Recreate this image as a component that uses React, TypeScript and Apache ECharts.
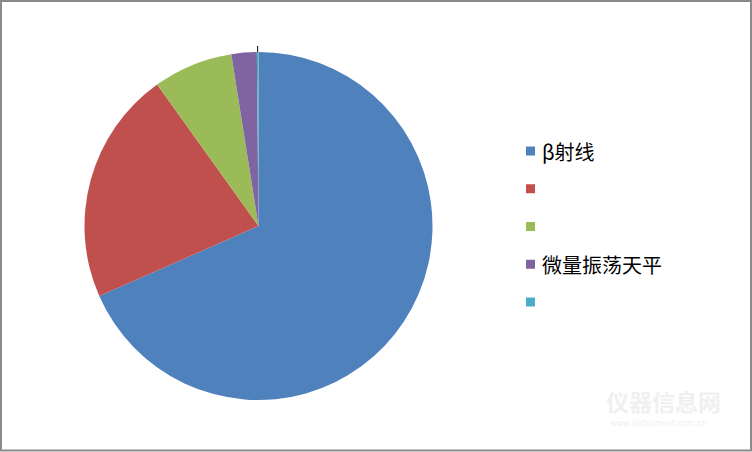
import React, { useEffect, useRef } from "react";
import * as echarts from "echarts";

const categories = ["β射线", "s2", "s3", "微量振荡天平", "s5"];
const displayNames: Record<string, string> = {
  "β射线": "β射线",
  s2: "",
  s3: "",
  "微量振荡天平": "微量振荡天平",
  s5: "",
};
const values = [68.4, 21.7, 7.4, 2.35, 0.15];
const colors = ["#4F81BD", "#C0504D", "#9BBB59", "#8064A2", "#4BACC6"];

export default function App() {
  const ref = useRef<HTMLDivElement>(null);
  useEffect(() => {
    if (!ref.current) return;
    const chart = echarts.init(ref.current, undefined, { renderer: "svg" });
    chart.setOption({
      animation: false,
      backgroundColor: "#ffffff",
      color: colors,
      legend: {
        orient: "vertical",
        left: 526,
        top: 141,
        padding: 0,
        itemWidth: 9,
        itemHeight: 9,
        itemGap: 17.75,
        icon: "rect",
        selectedMode: false,
        data: categories,
        formatter: (name: string) => displayNames[name],
        textStyle: {
          fontFamily: "Noto Sans CJK SC",
          fontSize: 20,
          lineHeight: 20,
          height: 20,
          color: "#000000",
          padding: [0, 0, 0, 2],
        },
      },
      graphic: [
        {
          type: "rect",
          shape: { x: 1, y: 1, width: 750, height: 449.5 },
          style: { fill: "none", stroke: "#8a8a8a", lineWidth: 2 },
          z: 100,
        },
        {
          type: "text",
          left: 606,
          top: 389,
          style: {
            text: "仪器信息网",
            fontSize: 23,
            fontFamily: "Noto Sans CJK SC",
            fontWeight: "bold",
            fill: "#f0f0f0",
          },
        },
        {
          type: "text",
          left: 610,
          top: 419,
          style: {
            text: "www.instrument.com.cn",
            fontSize: 8,
            fontFamily: "DejaVu Sans",
            fill: "#f0f0f0",
          },
        },
      ],
      series: [
        {
          type: "pie",
          center: [258.5, 226],
          radius: 174,
          startAngle: 90,
          clockwise: true,
          avoidLabelOverlap: false,
          itemStyle: { borderWidth: 0 },
          emphasis: { disabled: true },
          label: { show: false },
          labelLine: { show: false },
          data: categories.map((name, i) => ({
            name,
            value: values[i],
            ...(i === categories.length - 1
              ? {
                  label: { show: true, formatter: () => "", position: "outside" },
                  labelLine: {
                    show: true,
                    length: 6,
                    length2: 0,
                    lineStyle: { color: "#000000", width: 1 },
                  },
                }
              : {}),
          })),
        },
      ],
    });
    return () => chart.dispose();
  }, []);
  return (
    <div
      ref={ref}
      style={{ position: "fixed", left: 0, top: 0, width: 752, height: 452 }}
    />
  );
}
